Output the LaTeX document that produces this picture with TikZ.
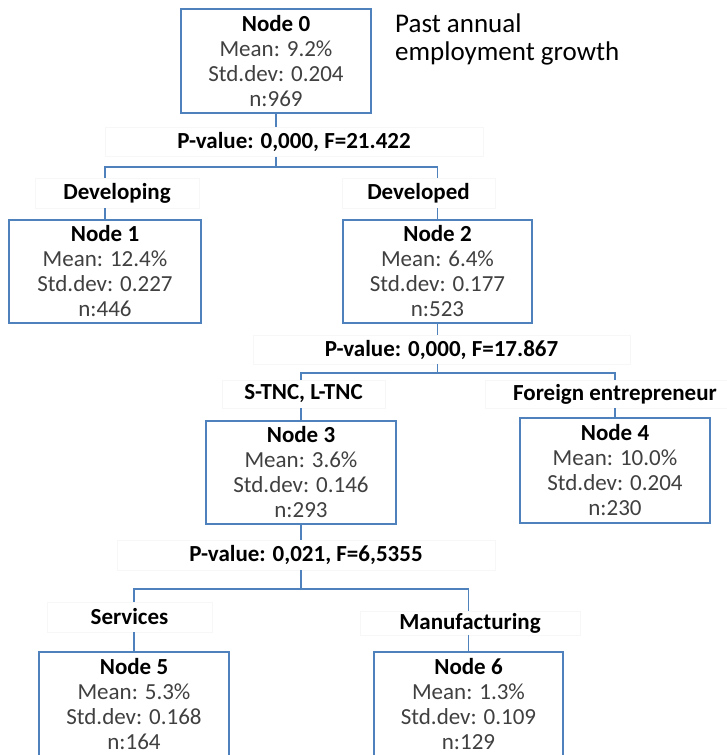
\documentclass[tikz,border=0pt]{standalone}
\usepackage{fontspec}
\setmainfont{Carlito}
\definecolor{lineblue}{RGB}{79,129,189}
\definecolor{stattext}{RGB}{64,64,64}
\begin{document}
\begin{tikzpicture}[x=1pt,y=-1pt,
  box/.style={draw=lineblue, line width=1.6pt, fill=white, minimum width=190pt, minimum height=104pt, inner sep=0pt, align=center, font=\fontsize{23}{25}\selectfont, text=stattext},
  lab/.style={draw=black!3, fill=white, inner sep=0pt, font=\fontsize{23}{25}\selectfont\bfseries, minimum height=29pt},
  conn/.style={draw=lineblue, line width=1.6pt}]
\useasboundingbox[fill=white] (0,0) rectangle (727,755);
% title
\node[anchor=west, align=left, inner sep=0pt, font=\fontsize{27}{28}\selectfont, text=black] (title) at (395,39) {Past annual\\employment growth};
% boxes
\node[box] (n0) at (276,61) {{\color{black}\bfseries Node 0}\\Mean: 9.2\%\\Std.dev: 0.204\\n:969};
\node[box, minimum width=192pt, minimum height=103pt] (n1) at (105,271.5) {{\color{black}\bfseries Node 1}\\Mean: 12.4\%\\Std.dev: 0.227\\n:446};
\node[box, minimum width=189pt, minimum height=103pt] (n2) at (437.5,271.5) {{\color{black}\bfseries Node 2}\\Mean: 6.4\%\\Std.dev: 0.177\\n:523};
\node[box, minimum height=103pt] (n3) at (301,472.5) {{\color{black}\bfseries Node 3}\\Mean: 3.6\%\\Std.dev: 0.146\\n:293};
\node[box, minimum height=105pt] (n4) at (615,470.5) {{\color{black}\bfseries Node 4}\\Mean: 10.0\%\\Std.dev: 0.204\\n:230};
\node[box] (n5) at (134,704) {{\color{black}\bfseries Node 5}\\Mean: 5.3\%\\Std.dev: 0.168\\n:164};
\node[box, minimum width=189pt] (n6) at (468.5,704) {{\color{black}\bfseries Node 6}\\Mean: 1.3\%\\Std.dev: 0.109\\n:129};
% labels
\node[lab, minimum width=378pt] (p1) at (294,142) {P-value: 0,000, F=21.422};
\node[lab, minimum width=164pt, minimum height=30pt] (l1) at (117,193) {Developing};
\node[lab, minimum width=153pt, minimum height=30pt] (l2) at (418.5,193) {Developed};
\node[lab, minimum width=377pt] (p2) at (441.5,349.5) {P-value: 0,000, F=17.867};
\node[lab, minimum width=163pt, minimum height=28pt] (l3) at (303.5,394) {S-TNC, L-TNC};
\node[lab, minimum width=260pt, minimum height=28pt] (l4) at (615,394) {Foreign entrepreneur};
\node[lab, minimum width=378pt, minimum height=30pt] (p3) at (306,555) {P-value: 0,021, F=6,5355};
\node[lab, minimum width=165pt, minimum height=30pt] (l5) at (129.5,617) {Services};
\node[lab, minimum width=220pt, minimum height=24pt] (l6) at (470,623) {Manufacturing};
% split 1
\coordinate (h1) at (276,167);
\draw[conn] (n0.south) -- (n0.south |- p1.north);
\draw[conn] (n0.south |- p1.south) -- (h1);
\draw[conn] (n1.north |- l1.north) -- (n1.north |- h1) -- (n2.north |- h1) -- (n2.north |- l2.north);
\draw[conn] (n1.north |- l1.south) -- (n1.north);
\draw[conn] (n2.north |- l2.south) -- (n2.north);
% split 2
\coordinate (h2) at (437.5,373);
\draw[conn] (n2.south) -- (n2.south |- p2.north);
\draw[conn] (n2.south |- p2.south) -- (h2);
\draw[conn] (n3.north |- l3.north) -- (n3.north |- h2) -- (n4.north |- h2) -- (n4.north |- l4.north);
\draw[conn] (n3.north |- l3.south) -- (n3.north);
\draw[conn] (n4.north |- l4.south) -- (n4.north);
% split 3
\coordinate (h3) at (301,589);
\draw[conn] (n3.south) -- (n3.south |- p3.north);
\draw[conn] (n3.south |- p3.south) -- (h3);
\draw[conn] (n5.north |- l5.north) -- (n5.north |- h3) -- (n6.north |- h3) -- (n6.north |- l6.north);
\draw[conn] (n5.north |- l5.south) -- (n5.north);
\draw[conn] (n6.north |- l6.south) -- (n6.north);
\end{tikzpicture}
\end{document}
